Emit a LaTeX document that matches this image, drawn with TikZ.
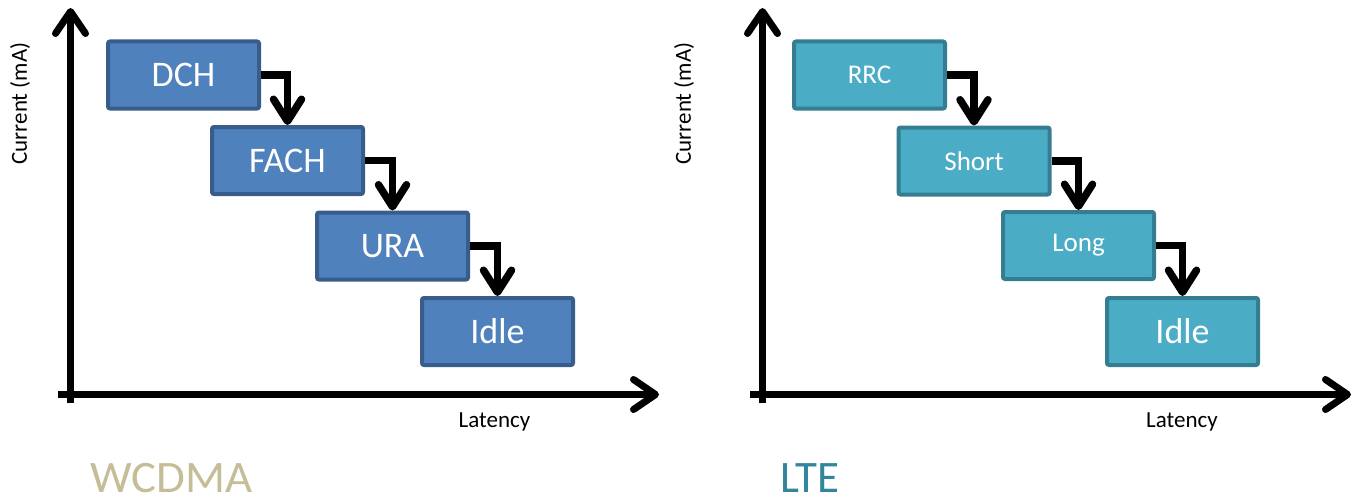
\documentclass[tikz,border=0pt]{standalone}
\usepackage{fontspec}
\setmainfont{Carlito}
\usepackage{tikz}
\usetikzlibrary{arrows.meta}
\definecolor{wcdmafill}{HTML}{4F81BD}
\definecolor{wcdmaline}{HTML}{385D8A}
\definecolor{ltefill}{HTML}{4BACC6}
\definecolor{lteline}{HTML}{357D91}
\definecolor{wcdmatitle}{HTML}{C4BD97}
\definecolor{ltetitle}{HTML}{31859C}

\begin{document}
\begin{tikzpicture}[x=1pt, y=-1pt,
  axisline/.style={line width=7pt, -{Straight Barb[round, length=22pt, width=30pt]}},
  stateflow/.style={line width=7.5pt, -{Straight Barb[round, length=22pt, width=28pt]}},
  wstate/.style={draw=wcdmaline, fill=wcdmafill, line width=4pt, rounded corners=2pt,
    minimum width=151pt, minimum height=67pt, inner sep=0pt, text=white,
    font=\fontsize{36}{40}\selectfont},
  lstate/.style={wstate, draw=lteline, fill=ltefill, font=\fontsize{27}{32}\selectfont},
  axislabel/.style={font=\fontsize{23}{26}\selectfont},
  title/.style={anchor=base west, inner sep=0pt, font=\fontsize{45}{50}\selectfont}]
  \useasboundingbox (0,0) rectangle (1356,503);

  % WCDMA
  \coordinate (w-bottom) at (70.5,403);
  \coordinate (w-top) at (70.5,8);
  \coordinate (w-left) at (58,394.5);
  \coordinate (w-right) at (659,394.5);
  \draw[axisline] (w-bottom) -- (w-top);
  \draw[axisline] (w-left) -- (w-right);
  \node[axislabel, rotate=90] (w-current) at (20,103.5) {Current (mA)};
  \node[axislabel, anchor=base] (w-latency) at (494.5,427) {Latency};

  \node[wstate] (dch) at (183.5,75) {DCH};
  \node[wstate] (fach) at (287.5,160.5) {FACH};
  \node[wstate] (ura) at (392.5,246) {URA};
  \node[wstate] (widle) at (497.5,331.5) {Idle};
  \draw[stateflow] (dch.east) -| (fach.north);
  \draw[stateflow] (fach.east) -| (ura.north);
  \draw[stateflow] (ura.east) -| (widle.north);

  \node[title, text=wcdmatitle, xscale=1.04] (wcdma) at (90,492) {WCDMA};

  % LTE
  \coordinate (l-bottom) at (762.5,403);
  \coordinate (l-top) at (762.5,8);
  \coordinate (l-left) at (750,394.5);
  \coordinate (l-right) at (1351,394.5);
  \draw[axisline] (l-bottom) -- (l-top);
  \draw[axisline] (l-left) -- (l-right);
  \node[axislabel, rotate=90] (l-current) at (684,103.5) {Current (mA)};
  \node[axislabel, anchor=base] (l-latency) at (1182,427) {Latency};

  \node[lstate] (rrc) at (869.5,75) {RRC};
  \node[lstate] (short) at (974,161) {Short};
  \node[lstate] (long) at (1078.5,245.5) {Long};
  \node[lstate, font=\fontsize{36}{40}\selectfont] (lidle) at (1182.5,331.5) {Idle};
  \draw[stateflow] (rrc.east) -| (short.north);
  \draw[stateflow] (short.east) -| (long.north);
  \draw[stateflow] (long.east) -| (lidle.north);

  \node[title, text=ltetitle] (lte) at (780,492) {LTE};
\end{tikzpicture}
\end{document}
